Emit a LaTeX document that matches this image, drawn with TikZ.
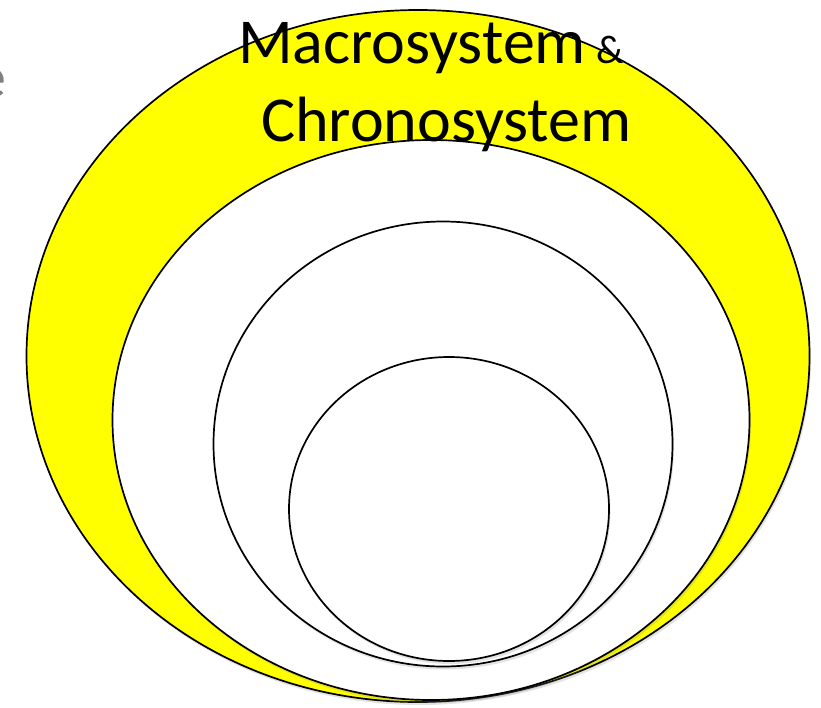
\documentclass[tikz,border=0pt]{standalone}
\usepackage{fontspec}
\setmainfont{Carlito}
\usetikzlibrary{shapes.geometric,shadows}
\definecolor{ringyellow}{RGB}{255,255,0}
\definecolor{fadedgrey}{RGB}{128,128,128}
\tikzset{
  ring/.style={draw=black, line width=1.7pt, ellipse, inner sep=0pt,
    drop shadow={shadow xshift=1.5pt, shadow yshift=-3pt, opacity=0.22}},
  bigtext/.style={inner sep=0pt, anchor=base west, font=\fontsize{64}{64}\selectfont}
}
\begin{document}
\begin{tikzpicture}[x=1pt,y=-1pt]
\useasboundingbox (0,0) rectangle (821,707);
\clip (0,0) rectangle (821,707);
\node[inner sep=0pt, anchor=base west, text=fadedgrey, font=\fontsize{60}{60}\selectfont] (frag) at (-24,97) {e};
\node[ring, fill=ringyellow, minimum width=783pt, minimum height=692pt] (outer) at (418,356) {};
\node[ring, fill=white, minimum width=637pt, minimum height=560pt] (exo) at (431,420) {};
\node[ring, fill=white, minimum width=459pt, minimum height=445pt] (meso) at (443,444) {};
\node[ring, fill=white, minimum width=320pt, minimum height=304pt] (micro) at (449,509) {};
\node[bigtext] (macro) at (238,63) {Macrosystem};
\node[inner sep=0pt, anchor=base west, font=\fontsize{40}{40}\selectfont] (amp) at (596,63) {\&};
\node[bigtext] (chrono) at (261,141) {Chronosystem};
\end{tikzpicture}
\end{document}
